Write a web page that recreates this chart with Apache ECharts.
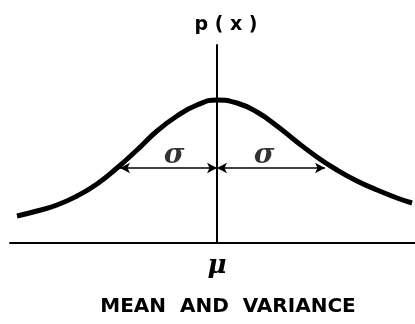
<!DOCTYPE html>
<html>
<head>
<meta charset="utf-8">
<script src="https://cdn.jsdelivr.net/npm/echarts@6/dist/echarts.min.js"></script>
<style>html,body{margin:0;padding:0;background:#fff}#c{width:415px;height:324px}</style>
</head>
<body>
<div id="c"></div>
<script>
// x in units of ~sigma (mean at 0), y = density (arbitrary units)
const curveX = [-2.0,-1.8,-1.6,-1.4,-1.2,-1.0,-0.8,-0.6,-0.4,-0.2,0,0.2,0.4,0.6,0.8,1.0,1.2,1.4,1.6,1.8,1.95];
const curveY = [0.27,0.32,0.38,0.47,0.59,0.75,0.93,1.12,1.27,1.38,1.43,1.40,1.31,1.17,1.01,0.86,0.73,0.62,0.53,0.45,0.40];
const sigmaLeftX = -0.97;
const sigmaRightX = 1.08;
const sigmaY = 0.75;
const sigmaLabelX = [-0.43, 0.47];
const sigmaLabelY = [0.87, 0.87];
const xTickValues = [0];
const xTickLabels = ['μ'];
const yAxisName = 'p ( x )';
const caption = 'MEAN  AND  VARIANCE';

const chart = echarts.init(document.getElementById('c'));
chart.setOption({
  animation: false,
  backgroundColor: '#fff',
  title: {
    text: caption,
    left: 223,
    top: 292,
    textAlign: 'center',
    textStyle: {fontFamily: 'DejaVu Sans', fontWeight: 'bold', fontSize: 20, color: '#000'}
  },
  grid: {left: 10, right: 0, top: 45, bottom: 81},
  xAxis: {
    type: 'value', min: -2.07, max: 1.98,
    splitLine: {show: false},
    axisTick: {show: false},
    axisLine: {lineStyle: {color: '#000', width: 2}},
    axisLabel: {
      customValues: xTickValues,
      formatter: function (v) { const i = xTickValues.indexOf(v); return i >= 0 ? xTickLabels[i] : ''; },
      fontFamily: 'DejaVu Serif', fontStyle: 'italic', fontWeight: 'bold', fontSize: 26, color: '#000', margin: 10
    }
  },
  yAxis: {
    type: 'value', min: 0, max: 1.98,
    name: yAxisName,
    nameLocation: 'end',
    nameGap: 10,
    nameTextStyle: {fontFamily: 'DejaVu Sans', fontWeight: 'bold', fontSize: 19, color: '#000', padding: [0,0,0,18]},
    splitLine: {show: false},
    axisTick: {show: false},
    axisLabel: {show: false},
    axisLine: {onZero: true, lineStyle: {color: '#000', width: 2}}
  },
  series: [
    {
      type: 'line',
      data: curveX.map((x, i) => [x, curveY[i]]),
      smooth: 0.5,
      showSymbol: false,
      lineStyle: {color: '#000', width: 5},
      markLine: {
        silent: true,
        symbol: ['arrow', 'arrow'],
        symbolSize: [8, 10],
        label: {show: false},
        lineStyle: {color: '#000', width: 1.5, type: 'solid'},
        data: [
          [{coord: [0, sigmaY]}, {coord: [sigmaLeftX, sigmaY]}],
          [{coord: [0, sigmaY]}, {coord: [sigmaRightX, sigmaY]}]
        ]
      }
    },
    {
      type: 'scatter',
      symbolSize: 0,
      data: sigmaLabelX.map((x, i) => [x, sigmaLabelY[i]]),
      label: {
        show: true, position: 'inside',
        formatter: 'σ',
        fontFamily: 'DejaVu Serif', fontStyle: 'italic', fontWeight: 'bold', fontSize: 28, color: '#000'
      }
    }
  ]
});
</script>
</body>
</html>
